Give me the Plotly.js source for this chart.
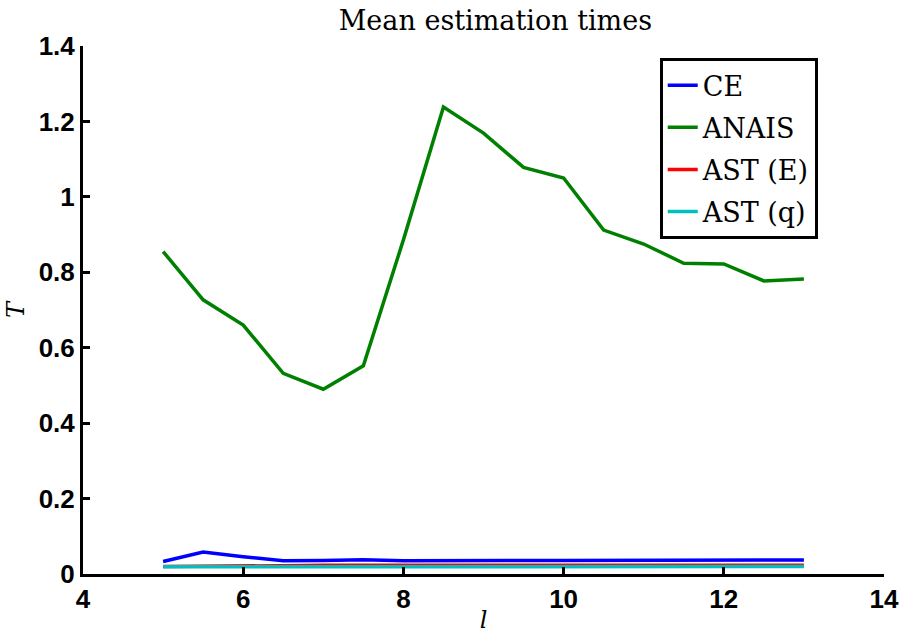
<!DOCTYPE html>
<html>
<head>
<meta charset="utf-8">
<script src="https://cdn.plot.ly/plotly-3.0.1.min.js"></script>
<style>
html,body{margin:0;padding:0;background:#fff;}
#chart{width:904px;height:634px;}
</style>
</head>
<body>
<div id="chart"></div>
<script>
const l = [5, 5.5, 6, 6.5, 7, 7.5, 8, 8.5, 9, 9.5, 10, 10.5, 11, 11.5, 12, 12.5, 13];
const ce    = [0.033, 0.058, 0.046, 0.035, 0.036, 0.038, 0.035, 0.036, 0.036, 0.036, 0.036, 0.036, 0.036, 0.036, 0.036, 0.036, 0.037];
const anais = [0.855, 0.727, 0.660, 0.532, 0.490, 0.552, 0.886, 1.238, 1.169, 1.078, 1.050, 0.912, 0.875, 0.824, 0.822, 0.777, 0.782];
const astE  = [0.020, 0.020, 0.021, 0.022, 0.023, 0.024, 0.023, 0.023, 0.023, 0.023, 0.023, 0.023, 0.023, 0.023, 0.023, 0.023, 0.023];
const astQ  = [0.019, 0.019, 0.019, 0.019, 0.019, 0.019, 0.019, 0.019, 0.020, 0.020, 0.020, 0.020, 0.020, 0.020, 0.020, 0.020, 0.020];
const names = ['CE', 'ANAIS', 'AST (E)', 'AST (q)'];
const colors = ['#0000ff', '#008000', '#ff0000', '#00bfbf'];
const series = [ce, anais, astE, astQ];

const serif = '"DejaVu Serif", "Liberation Serif", serif';
const sans = '"Liberation Sans", Arial, sans-serif';

const traces = series.map((s, i) => ({
  x: l, y: s, type: 'scatter', mode: 'lines', name: names[i], legendgroup: 'g' + i,
  line: {color: colors[i], width: 3.5}
}));

const axisCommon = {
  showgrid: false, zeroline: false, showline: true, linecolor: '#000', linewidth: 3,
  ticks: 'inside', ticklen: 7, tickwidth: 3, tickcolor: '#000',
  tickfont: {family: sans, size: 26, color: '#000', weight: 'bold'}
};

const layout = {
  width: 904, height: 634,
  margin: {l: 83, r: 20, t: 46, b: 60},
  paper_bgcolor: '#fff', plot_bgcolor: '#fff',
  title: {text: 'Mean estimation times', font: {family: serif, size: 27, color: '#000'}, x: 0.548, xanchor: 'center', y: 0.967, yanchor: 'middle'},
  xaxis: Object.assign({}, axisCommon, {range: [4, 14], tickvals: [4, 6, 8, 10, 12, 14],
    title: {text: '<i>l</i>', font: {family: serif, size: 24, color: '#000'}, standoff: 0}}),
  yaxis: Object.assign({}, axisCommon, {range: [0, 1.4], tickvals: [0, 0.2, 0.4, 0.6, 0.8, 1, 1.2, 1.4], ticktext: ['0','0.2','0.4','0.6','0.8','1','1.2','1.4'],
    title: {text: '<i>T</i>', font: {family: serif, size: 24, color: '#000'}, standoff: 8}}),
  showlegend: true,
  legend: {x: 0.72, y: 0.977, xanchor: 'left', yanchor: 'top', bgcolor: '#fff', bordercolor: '#000', borderwidth: 3,
    font: {family: serif, size: 27, color: '#000'}, itemwidth: 30, tracegroupgap: 4,
    entrywidth: 170, entrywidthmode: 'pixels'}
};

Plotly.newPlot('chart', traces, layout, {displayModeBar: false, staticPlot: true});
</script>
</body>
</html>
